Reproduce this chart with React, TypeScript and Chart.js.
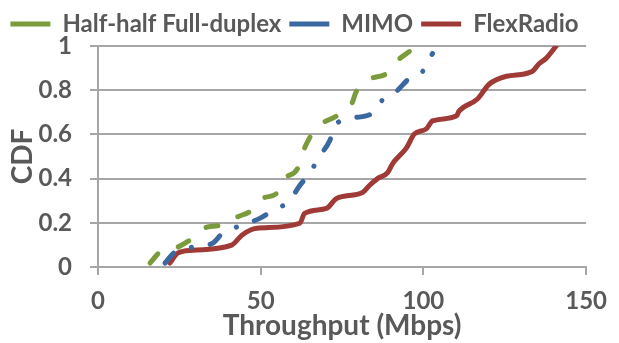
import React, { useEffect, useRef } from "react";
import { Chart, registerables } from "chart.js";

Chart.register(...registerables);

const seriesNames = ["Half-half Full-duplex", "MIMO", "FlexRadio"];

const halfX = [16.0, 19.0, 24.5, 29.1, 33.4, 38.3, 42.6, 47.2, 50.6, 54.9, 57.4, 61.3, 62.9, 65.0, 68.7, 73.3, 77.9, 79.4, 83.4, 88.7, 91.7, 95.7];
const halfY = [0.018, 0.067, 0.09, 0.13, 0.18, 0.19, 0.225, 0.256, 0.31, 0.333, 0.40, 0.445, 0.517, 0.584, 0.647, 0.683, 0.737, 0.795, 0.849, 0.876, 0.93, 0.975];

const mimoX = [20.6, 23.6, 29.1, 35.3, 38.3, 44.2, 49.7, 53.7, 58.9, 62.0, 65.0, 68.1, 71.2, 72.7, 78.2, 84.4, 87.1, 91.7, 95.7, 100.3, 102.8];
const mimoY = [0.018, 0.067, 0.09, 0.108, 0.153, 0.189, 0.22, 0.256, 0.30, 0.369, 0.422, 0.503, 0.571, 0.638, 0.674, 0.697, 0.751, 0.795, 0.854, 0.894, 0.966];

const flexX = [22.1, 24.5, 29.1, 41.1, 44.2, 48.8, 62.0, 63.5, 70.2, 73.3, 81.3, 83.4, 85.9, 89.0, 90.5, 92.6, 94.8, 97.2, 100.9, 102.8, 110.1, 111.0, 116.6, 120.2, 125.5, 133.4, 135.6, 137.7, 140.8];
const flexY = [0.018, 0.063, 0.076, 0.099, 0.144, 0.175, 0.198, 0.243, 0.265, 0.31, 0.337, 0.369, 0.40, 0.427, 0.467, 0.503, 0.539, 0.602, 0.625, 0.661, 0.683, 0.706, 0.76, 0.827, 0.863, 0.885, 0.921, 0.944, 1.0];

const xTicks = [0, 50, 100, 150];
const yTicks = [0, 0.2, 0.4, 0.6, 0.8, 1];

const FONT = "Lato";
const TEXT = "#595959";

function pts(xs: number[], ys: number[]) {
  return xs.map((x, i) => ({ x, y: ys[i] }));
}

export default function App() {
  const ref = useRef<HTMLCanvasElement | null>(null);
  useEffect(() => {
    document.body.style.margin = "0";
    const ctx = ref.current!;
    const chart = new Chart(ctx, {
      type: "line",
      data: {
        datasets: [
          {
            label: seriesNames[0],
            data: pts(halfX, halfY),
            borderColor: "#7B9C3C",
            backgroundColor: "#7B9C3C",
            borderWidth: 5,
            borderDash: [12, 22],
            borderCapStyle: "round",
            pointRadius: 0,
            cubicInterpolationMode: "monotone",
          },
          {
            label: seriesNames[1],
            data: pts(mimoX, mimoY),
            borderColor: "#3A68A0",
            backgroundColor: "#3A68A0",
            borderWidth: 5,
            borderDash: [13, 19, 0.1, 19],
            borderCapStyle: "round",
            pointRadius: 0,
            cubicInterpolationMode: "monotone",
          },
          {
            label: seriesNames[2],
            data: pts(flexX, flexY),
            borderColor: "#A03A37",
            backgroundColor: "#A03A37",
            borderWidth: 5,
            borderCapStyle: "round",
            pointRadius: 0,
            cubicInterpolationMode: "monotone",
          },
        ],
      },
      options: {
        animation: false,
        responsive: false,
        layout: { padding: { left: 0, right: 30, top: 4, bottom: 0 } },
        plugins: {
          tooltip: { enabled: false },
          legend: {
            display: true,
            position: "top",
            labels: {
              usePointStyle: true,
              pointStyle: "line",
              pointStyleWidth: 40,
              boxHeight: 20,
              padding: 8,
              color: TEXT,
              font: { family: FONT, size: 24, weight: "bold" },
            },
          },
        },
        scales: {
          x: {
            type: "linear",
            min: 0,
            max: 150,
            afterFit: (s: any) => {
              s.height = 76;
            },
            afterBuildTicks: (s: any) => {
              s.ticks = xTicks.map((v) => ({ value: v }));
            },
            grid: {
              drawOnChartArea: false,
              drawTicks: true,
              tickLength: 8,
              color: "#A6A6A6",
              lineWidth: 2,
            },
            border: { display: true, color: "#A6A6A6", width: 2 },
            ticks: {
              padding: 12,
              color: TEXT,
              font: { family: FONT, size: 24, weight: "bold" },
            },
            title: {
              display: true,
              text: "Throughput (Mbps)",
              color: TEXT,
              padding: { top: 0, bottom: 0 },
              font: { family: FONT, size: 28, weight: "bold" },
            },
          },
          y: {
            type: "linear",
            min: 0,
            max: 1,
            afterFit: (s: any) => {
              s.width = 98;
            },
            afterBuildTicks: (s: any) => {
              s.ticks = yTicks.map((v) => ({ value: v }));
            },
            grid: {
              drawTicks: true,
              tickLength: 8,
              color: "#A6A6A6",
              lineWidth: 2,
            },
            border: { display: true, color: "#A6A6A6", width: 2 },
            ticks: {
              padding: 18,
              color: TEXT,
              font: { family: FONT, size: 24, weight: "bold" },
              callback: (v: any) => String(v),
            },
            title: {
              display: true,
              text: "CDF",
              color: TEXT,
              padding: { top: 6, bottom: 0 },
              font: { family: FONT, size: 28, weight: "bold" },
            },
          },
        },
      },
    });
    return () => chart.destroy();
  }, []);
  return (
    <div style={{ width: 619, height: 343 }}>
      <canvas ref={ref} width={619} height={343} />
    </div>
  );
}
